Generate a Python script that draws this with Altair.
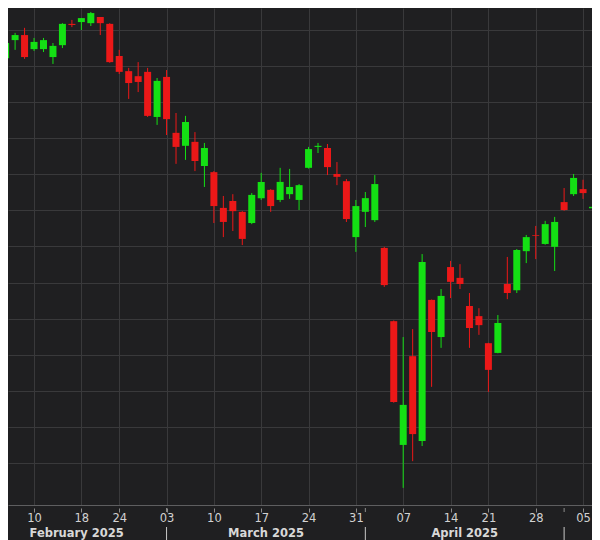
import json
import numpy as np
import pandas as pd
import altair as alt

# ---- data (daily candles, index points) ----
dates = [
    "2025-02-05", "2025-02-06", "2025-02-07", "2025-02-10", "2025-02-11", "2025-02-12", "2025-02-13", "2025-02-14",
    "2025-02-18", "2025-02-19", "2025-02-20", "2025-02-21", "2025-02-24", "2025-02-25", "2025-02-26", "2025-02-27",
    "2025-02-28", "2025-03-03", "2025-03-04", "2025-03-05", "2025-03-06", "2025-03-07", "2025-03-10", "2025-03-11",
    "2025-03-12", "2025-03-13", "2025-03-14", "2025-03-17", "2025-03-18", "2025-03-19", "2025-03-20", "2025-03-21",
    "2025-03-24", "2025-03-25", "2025-03-26", "2025-03-27", "2025-03-28", "2025-03-31", "2025-04-01", "2025-04-02",
    "2025-04-03", "2025-04-04", "2025-04-07", "2025-04-08", "2025-04-09", "2025-04-10", "2025-04-11", "2025-04-14",
    "2025-04-15", "2025-04-16", "2025-04-17", "2025-04-21", "2025-04-22", "2025-04-23", "2025-04-24", "2025-04-25",
    "2025-04-28", "2025-04-29", "2025-04-30", "2025-05-01", "2025-05-02", "2025-05-05", "2025-05-06", "2025-05-07",
]
opens = [
    6022, 6072, 6086, 6047, 6047, 6025, 6058, 6117, 6122, 6119, 6136, 6117, 6028, 5986, 5972, 5984,
    5859, 5970, 5815, 5779, 5790, 5723, 5706, 5607, 5626, 5596, 5565, 5634, 5657, 5629, 5645, 5629,
    5718, 5776, 5773, 5701, 5681, 5526, 5596, 5573, 5496, 5293, 4950, 5196, 4961, 5352, 5249, 5443,
    5413, 5335, 5307, 5232, 5205, 5396, 5379, 5487, 5531, 5507, 5499, 5623, 5645, 5659, 5606, 5618,
]
highs = [
    6067, 6092, 6106, 6078, 6078, 6064, 6119, 6128, 6133, 6150, 6136, 6119, 6045, 5995, 6011, 5995,
    5967, 5989, 5870, 5862, 5817, 5787, 5709, 5640, 5645, 5598, 5648, 5704, 5659, 5718, 5715, 5673,
    5776, 5787, 5784, 5734, 5687, 5629, 5651, 5698, 5499, 5295, 5249, 5271, 5479, 5353, 5382, 5460,
    5451, 5371, 5329, 5233, 5310, 5471, 5493, 5532, 5557, 5571, 5582, 5662, 5701, 5685, 5651, 5645,
]
lows = [
    6009, 6045, 6020, 6042, 6039, 6006, 6050, 6108, 6100, 6111, 6086, 6009, 5978, 5909, 5928, 5859,
    5837, 5809, 5729, 5740, 5709, 5665, 5565, 5526, 5543, 5504, 5562, 5629, 5596, 5623, 5632, 5601,
    5716, 5759, 5698, 5670, 5568, 5485, 5554, 5568, 5388, 5067, 4831, 4905, 4947, 5111, 5219, 5357,
    5382, 5219, 5255, 5097, 5204, 5354, 5371, 5454, 5465, 5505, 5432, 5599, 5640, 5632, 5588, 5601,
]
closes = [
    6064, 6086, 6025, 6067, 6072, 6056, 6117, 6114, 6133, 6147, 6119, 6011, 5984, 5953, 5956, 5862,
    5959, 5853, 5776, 5845, 5737, 5773, 5612, 5568, 5598, 5521, 5643, 5679, 5612, 5679, 5665, 5670,
    5770, 5779, 5720, 5693, 5576, 5612, 5634, 5673, 5393, 5069, 5061, 4980, 5457, 5263, 5363, 5402,
    5396, 5274, 5282, 5158, 5288, 5371, 5490, 5526, 5529, 5562, 5568, 5601, 5690, 5648, 5610, 5634,
]

holidays = ["2025-02-17", "2025-04-18"]
month_names = ["February 2025", "March 2025", "April 2025"]
month_starts = ["2025-02-03", "2025-03-03", "2025-04-01", "2025-05-01"]
grid_prices = list(range(4900, 6101, 100))

# ---- derived tables ----
origin = dates[0]


def tindex(d):
    return int(np.busday_count(origin, d, holidays=holidays))


dt = pd.to_datetime(dates)
df = pd.DataFrame({
    "i": [tindex(d) for d in dates],
    "date": dates,
    "open": opens,
    "high": highs,
    "low": lows,
    "close": closes,
})
df["dir"] = np.where(df["close"] >= df["open"], "up", "down")

weeks = dt.isocalendar().week.to_numpy()
tick_idx = [int(df["i"][k]) for k in range(1, len(dates)) if weeks[k] != weeks[k - 1]]
day_labels = [d.strftime("%d") for d in dt]

start_idx = [tindex(d) for d in month_starts]
months_df = pd.DataFrame({
    "i": [(start_idx[k] + start_idx[k + 1]) / 2 for k in range(len(month_names))],
    "name": month_names,
})
seps_df = pd.DataFrame({"i": start_idx[1:]})

# ---- styling ----
BG = "#1f1f21"
GRID = "#39393b"
GREEN = "#14e014"
RED = "#ec1818"
FONT = "DejaVu Sans"

xscale = alt.Scale(domain=[0.25, 61.945], nice=False, zero=False, padding=0)
yscale = alt.Scale(domain=[4783.5, 6161], nice=False, zero=False, padding=0)

xaxis = alt.Axis(
    values=tick_idx,
    labelExpr=json.dumps(day_labels) + "[datum.value]",
    grid=True, gridColor=GRID, gridWidth=1,
    domain=True, domainColor="#5e5e60", domainWidth=1,
    ticks=True, tickColor="#8c8c8c", tickSize=7, tickDash=[0, 3, 4, 1],
    labelColor="#d2d2d2", labelFont=FONT, labelFontSize=11.5,
    labelBaseline="middle", labelPadding=6,
    labelOverlap=False, labelFlush=False, title=None,
)
yaxis = alt.Axis(
    values=grid_prices, grid=True, gridColor=GRID, gridWidth=1,
    labels=False, ticks=False, domain=False, title=None,
)

X = alt.X("i:Q", scale=xscale, axis=xaxis, title=None)
color = alt.Color("dir:N", scale=alt.Scale(domain=["up", "down"], range=[GREEN, RED]), legend=None)

base = alt.Chart(df)

wicks = base.mark_rule(strokeWidth=1, clip=True).encode(
    x=X,
    y=alt.Y("low:Q", scale=yscale, axis=yaxis, title=None),
    y2="high:Q",
    color=color,
)
bodies = base.mark_bar(size=7, clip=True).encode(
    x=X,
    y=alt.Y("open:Q", scale=yscale, axis=yaxis, title=None),
    y2="close:Q",
    color=color,
)

seps = alt.Chart(seps_df).mark_rule(color="#c8c8c8", strokeWidth=1).encode(
    x=X, y=alt.value(519), y2=alt.value(545)
)
sep_ticks = alt.Chart(seps_df).mark_rule(color="#8c8c8c", strokeWidth=1).encode(
    x=X, y=alt.value(500), y2=alt.value(504)
)
month_text = alt.Chart(months_df).mark_text(
    font=FONT, fontSize=11.5, fontWeight="bold", color="#d8d8d8", baseline="middle", align="center"
).encode(x=X, y=alt.value(526), text="name:N")

chart = alt.layer(wicks, bodies, seps, sep_ticks, month_text).properties(
    width=584,
    height=497,
    autosize=alt.AutoSizeParams(type="none"),
    padding={"left": 0, "top": 0, "right": 0, "bottom": 45},
    background=BG,
).configure_view(stroke=None)

chart.save("out.html", embed_options={"renderer": "svg", "actions": False})
